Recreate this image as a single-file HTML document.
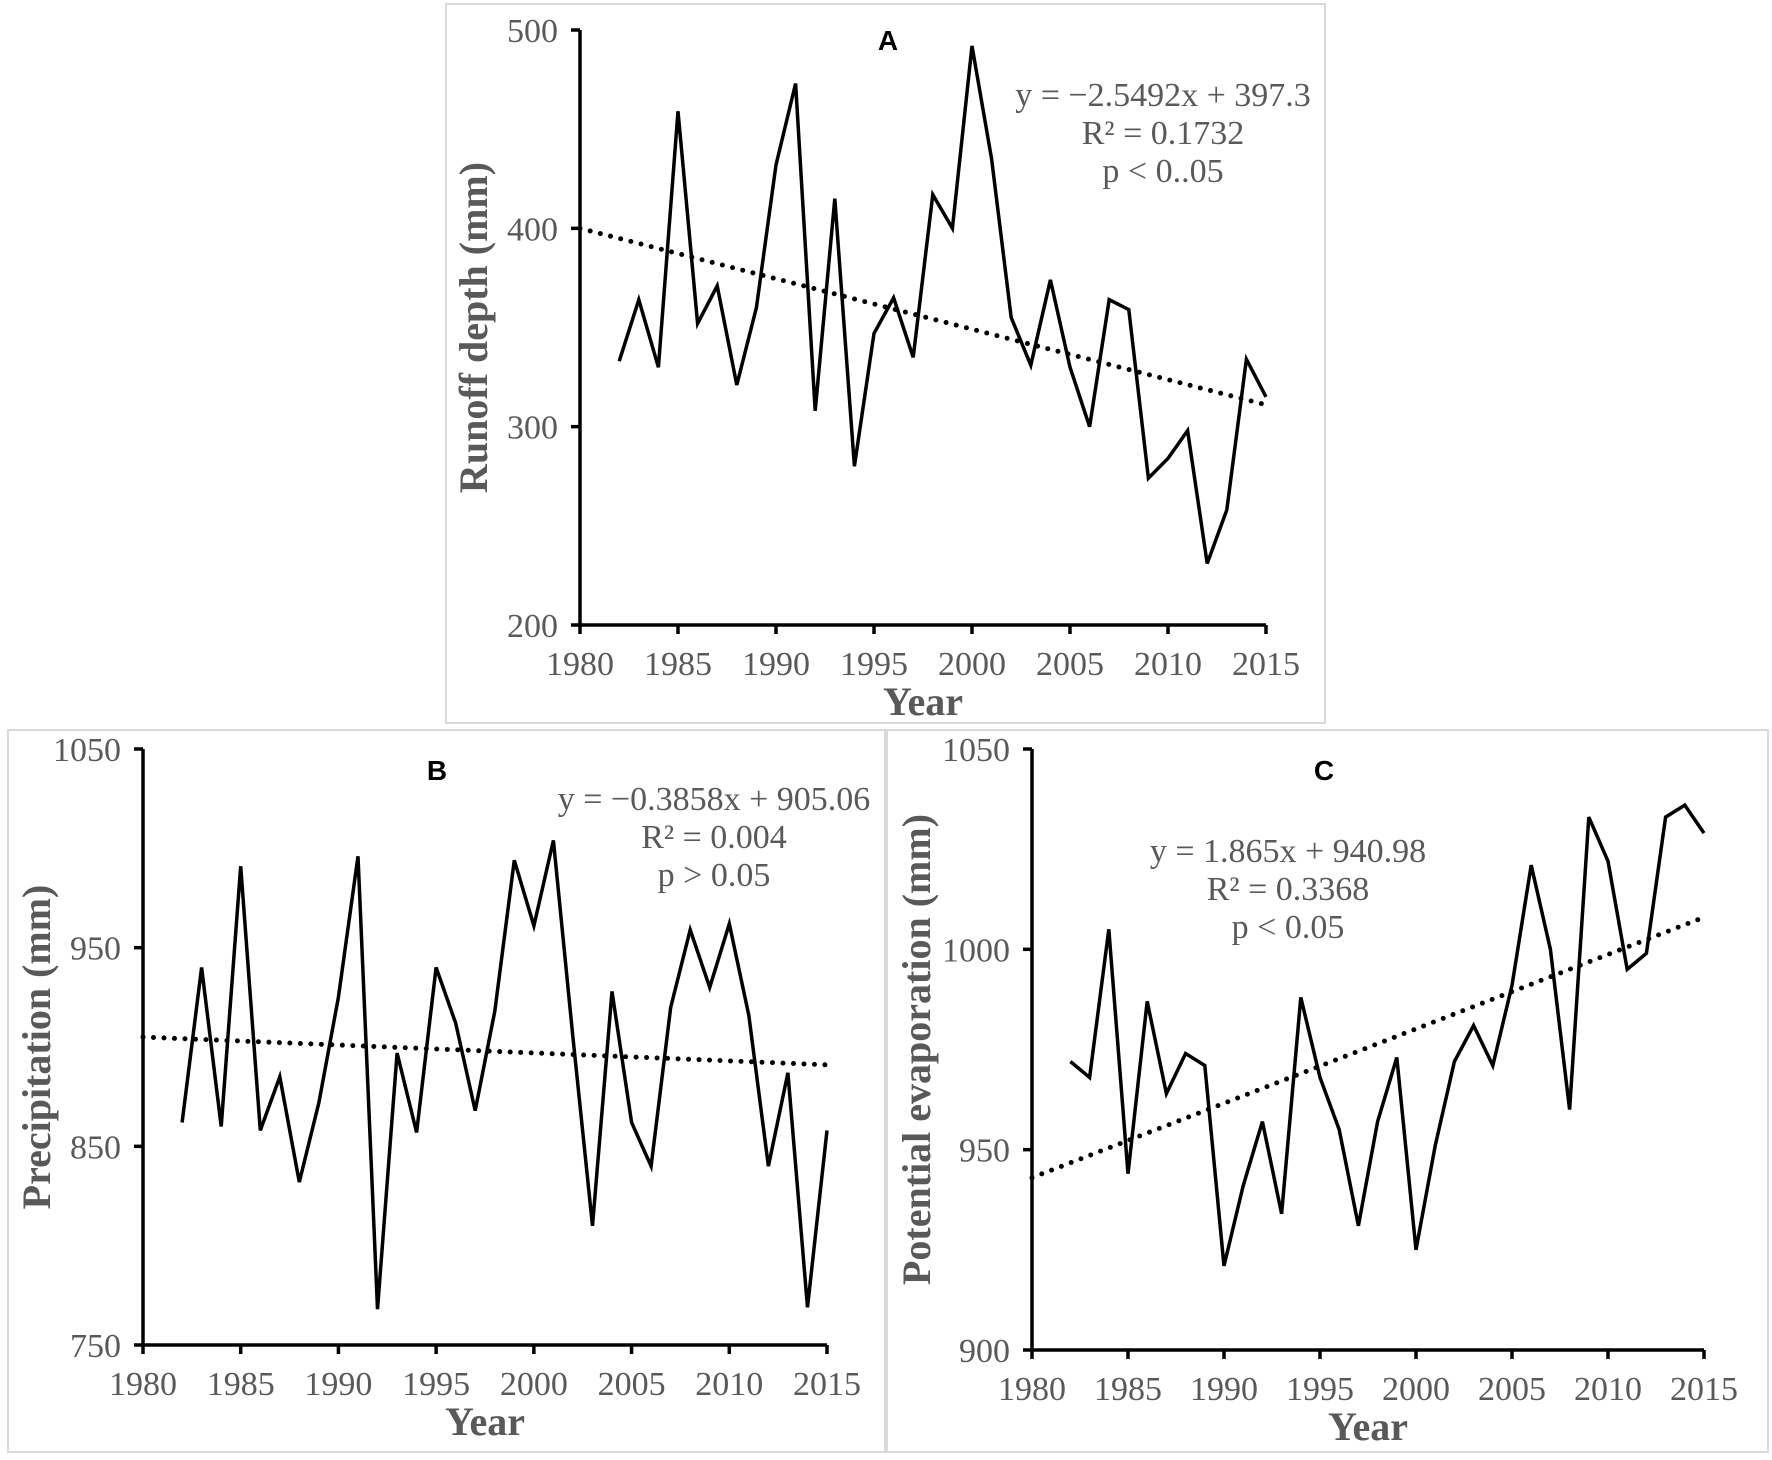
<!DOCTYPE html>
<html><head><meta charset="utf-8"><style>
html,body{margin:0;padding:0;background:#fff;}
svg{display:block;}
text{font-family:"Liberation Serif",serif;fill:#595959;}
</style></head><body>
<svg id="fig" width="1772" height="1460" viewBox="0 0 1772 1460" xmlns="http://www.w3.org/2000/svg">
<rect x="0" y="0" width="1772" height="1460" fill="#fff"/>
</svg>
<script>
const years = [1982,1983,1984,1985,1986,1987,1988,1989,1990,1991,1992,1993,1994,1995,1996,1997,1998,1999,2000,2001,2002,2003,2004,2005,2006,2007,2008,2009,2010,2011,2012,2013,2014,2015];
const runoff = [333,364,330,459,352,371,321,360,432,473,308,415,280,347,365,335,417,400,492,435,355,331,374,330,300,364,359,274,284,298,231,258,334,315];
const precip = [862,940,860,991,858,885,832,872,925,996,768,897,857,940,912,868,918,994,961,1004,905,810,928,862,840,920,959,930,962,916,840,887,769,858];
const pet = [972,968,1005,944,987,964,974,971,921,941,957,934,988,968,955,931,957,973,925,951,972,981,971,991,1021,1000,960,1033,1022,995,999,1033,1036,1029];
const xTicks = [1980,1985,1990,1995,2000,2005,2010,2015];
const runoffTicks = [200,300,400,500];
const precipTicks = [750,850,950,1050];
const petTicks = [900,950,1000,1050];
const runoffTrend = [400,311];
const precipTrend = [905,891];
const petTrend = [943,1008];

const NS="http://www.w3.org/2000/svg";
const svg=document.getElementById('fig');
function mk(tag,attrs,parent){const e=document.createElementNS(NS,tag);for(const k in attrs)e.setAttribute(k,attrs[k]);(parent||svg).appendChild(e);return e;}

function panel(cfg){
  const g=mk('g',{});
  
  
  const box=mk('rect',{x:cfg.box[0],y:cfg.box[1],width:cfg.box[2]-cfg.box[0],height:cfg.box[3]-cfg.box[1],fill:'none',stroke:'#d9d9d9','stroke-width':2},g);
  
  
  const [x0,x1]=cfg.xr, [y0,y1]=cfg.yr, [vmin,vmax]=[cfg.yTicks[0],cfg.yTicks[cfg.yTicks.length-1]];
  const sx=v=>x0+(v-1980)/(2015-1980)*(x1-x0);
  const sy=v=>y0-(v-vmin)/(vmax-vmin)*(y0-y1);
  const ax=mk('path',{d:`M${x0},${y1} V${y0} H${x1}`,fill:'none',stroke:'#000','stroke-width':3.5},g);
  
  
  cfg.yTicks.forEach(t=>{
    const y=sy(t);
    mk('line',{x1:x0-9,x2:x0,y1:y,y2:y,stroke:'#000','stroke-width':3.5},g);
    const tx=mk('text',{x:x0-22,y:y+12,'text-anchor':'end','font-size':34},g);
    tx.textContent=t;
    
    
  });
  xTicks.forEach(t=>{
    const x=sx(t);
    mk('line',{x1:x,x2:x,y1:y0,y2:y0+9,stroke:'#000','stroke-width':3.5},g);
    const tx=mk('text',{x:x,y:y0+50,'text-anchor':'middle','font-size':34},g);
    tx.textContent=t;
    
    
  });
  const xt=mk('text',{x:(x0+x1)/2,y:y0+90,'text-anchor':'middle','font-size':40,'font-weight':'bold'},g);
  xt.textContent='Year';
  
  
  const yt=mk('text',{x:0,y:0,'text-anchor':'middle','font-size':40,'font-weight':'bold',transform:`translate(${cfg.ytx},${(y0+y1)/2}) rotate(-90)`},g);
  yt.textContent=cfg.ytitle;
  
  
  const tr=mk('line',{x1:sx(1980),y1:sy(cfg.trend[0]),x2:sx(2015),y2:sy(cfg.trend[1]),stroke:'#000','stroke-width':5,'stroke-linecap':'round','stroke-dasharray':'0 10.5'},g);
  
  
  const d=years.map((yr,i)=>(i?'L':'M')+sx(yr).toFixed(1)+','+sy(cfg.data[i]).toFixed(1)).join(' ');
  const ln=mk('path',{d:d,fill:'none',stroke:'#000','stroke-width':3.5,'stroke-linejoin':'miter'},g);
  
  
  const lt=mk('text',{x:cfg.letter[0],y:cfg.letter[1],'text-anchor':'middle','font-size':28,'font-weight':'bold',style:'font-family:"Liberation Sans",sans-serif;fill:#000'},g);
  lt.textContent=cfg.letterText;
  
  
  cfg.eq.forEach((s,i)=>{
    const e=mk('text',{x:cfg.eqx,y:cfg.eqy+i*38,'text-anchor':'middle','font-size':34},g);
    e.textContent=s;
    
    
  });
}

panel({name:'panel-a',box:[446,4,1325,723],xr:[580,1266],yr:[625,30],yTicks:runoffTicks,data:runoff,trend:runoffTrend,
  ytitle:'Runoff depth (mm)',ytx:487,letter:[888,50],letterText:'A',eq:['y = −2.5492x + 397.3','R² = 0.1732','p < 0..05'],eqx:1163,eqy:106});
panel({name:'panel-b',box:[8,730,885,1452],xr:[143,827],yr:[1345,749],yTicks:precipTicks,data:precip,trend:precipTrend,
  ytitle:'Precipitation (mm)',ytx:50,letter:[437,780],letterText:'B',eq:['y = −0.3858x + 905.06','R² = 0.004','p > 0.05'],eqx:714,eqy:810});
panel({name:'panel-c',box:[887,730,1768,1452],xr:[1032,1704],yr:[1350,749],yTicks:petTicks,data:pet,trend:petTrend,
  ytitle:'Potential evaporation (mm)',ytx:930,letter:[1324,780],letterText:'C',eq:['y = 1.865x + 940.98','R² = 0.3368','p < 0.05'],eqx:1288,eqy:862});
</script>
</body></html>
